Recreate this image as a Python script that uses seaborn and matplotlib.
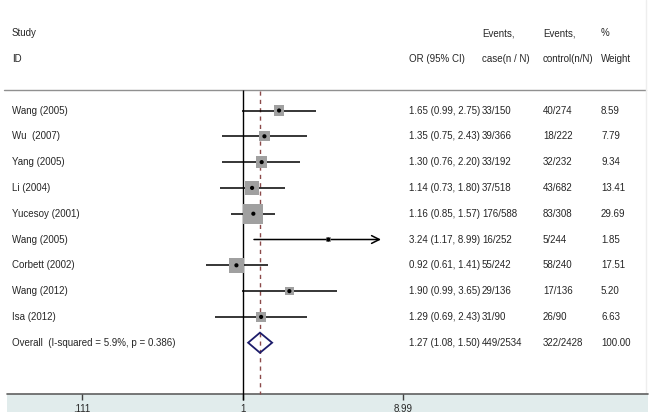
import matplotlib
matplotlib.use('Agg')
import matplotlib.pyplot as plt
import numpy as np
import pandas as pd
import seaborn as sns

# study data
studies = ["Wang (2005)", "Wu  (2007)", "Yang (2005)", "Li (2004)", "Yucesoy (2001)",
           "Wang (2005)", "Corbett (2002)", "Wang (2012)", "Isa (2012)"]
or_est = [1.65, 1.35, 1.30, 1.14, 1.16, 3.24, 0.92, 1.90, 1.29]
ci_lo = [0.99, 0.75, 0.76, 0.73, 0.85, 1.17, 0.61, 0.99, 0.69]
ci_hi = [2.75, 2.43, 2.20, 1.80, 1.57, 8.99, 1.41, 3.65, 2.43]
case_events = ["33/150", "39/366", "33/192", "37/518", "176/588", "16/252", "55/242", "29/136", "31/90"]
ctrl_events = ["40/274", "18/222", "32/232", "43/682", "83/308", "5/244", "58/240", "17/136", "26/90"]
weights = [8.59, 7.79, 9.34, 13.41, 29.69, 1.85, 17.51, 5.20, 6.63]

overall_label = "Overall  (I-squared = 5.9%, p = 0.386)"
overall_est, overall_lo, overall_hi = 1.27, 1.08, 1.50
overall_case, overall_ctrl, overall_weight = "449/2534", "322/2428", "100.00"

tick_vals = [0.111, 1, 8.99]
tick_labels = [".111", "1", "8.99"]
clip_hi = 6.67  # CI arms beyond this are drawn as arrows

sns.set_theme(style='white')
plt.rcParams['font.family'] = ['Liberation Sans', 'DejaVu Sans']

fig = plt.figure(figsize=(6.52, 4.19), dpi=100)
ax = fig.add_axes([0, 0, 1, 1])
ax.set_xscale('log')
ax.set_xlim(0.03607, 273.0)
ax.set_ylim(11.957, -4.283)
ax.axis('off')

df = pd.DataFrame(dict(study=studies, est=or_est, lo=ci_lo, hi=ci_hi, w=weights,
                       row=np.arange(len(studies))))
n = len(studies)
trans = ax.get_yaxis_transform()
fs = 7

# header + separators
ax.text(12 / 652, -3, "Study", fontsize=fs, va='center', transform=trans)
ax.text(12 / 652, -2, "ID", fontsize=fs, va='center', transform=trans)
ax.text(409 / 652, -2, "OR (95% CI)", fontsize=fs, va='center', transform=trans)
ax.text(482 / 652, -3, "Events,", fontsize=fs, va='center', transform=trans)
ax.text(482 / 652, -2, "case(n / N)", fontsize=fs, va='center', transform=trans)
ax.text(543 / 652, -3, "Events,", fontsize=fs, va='center', transform=trans)
ax.text(543 / 652, -2, "control(n/N)", fontsize=fs, va='center', transform=trans)
ax.text(601 / 652, -3, "%", fontsize=fs, va='center', transform=trans)
ax.text(601 / 652, -2, "Weight", fontsize=fs, va='center', transform=trans)
ax.plot([4 / 652, 646 / 652], [-0.81, -0.81], transform=trans, color='#909090', lw=1)
ax.plot([646 / 652, 646 / 652], [-4.283, 11.0], transform=trans, color='#eeeeee', lw=1)

# bottom axis band
ax.axhspan(11.0, 11.69, xmin=7 / 652, xmax=648 / 652, color='#e1ecec', lw=0)
ax.plot([7 / 652, 648 / 652], [11.0, 11.0], transform=trans, color='#606060', lw=1.2)
ax.vlines(tick_vals, 11.0, 11.23, color='#404040', lw=1)
for v, lab in zip(tick_vals, tick_labels):
    ax.text(v, 11.57, lab, fontsize=fs, ha='center', va='center')

# null line and pooled estimate line
ax.vlines(1, -0.81, 11.23, color='black', lw=1)
ax.vlines(overall_est, -0.75, 11.0, color='#8b4a4a', lw=1, linestyles=(0, (3, 3)))

# confidence intervals
for r in df.itertuples():
    if r.hi > clip_hi:
        ax.annotate("", xy=(clip_hi, r.row), xytext=(r.lo, r.row),
                    arrowprops=dict(arrowstyle='->', color='black', lw=1.1,
                                    mutation_scale=14, shrinkA=0, shrinkB=0))
    else:
        ax.hlines(r.row, r.lo, r.hi, color='black', lw=1.1)

# weight squares and point estimates
sns.scatterplot(data=df, x='est', y='row', size='w', sizes=(1.85 * 7, 29.69 * 7),
                size_norm=(1.85, 29.69), marker='s', color='#a0a0a0', edgecolor='none',
                legend=False, ax=ax, zorder=3)
sns.scatterplot(data=df, x='est', y='row', color='black', s=9, marker='o',
                edgecolor='none', legend=False, ax=ax, zorder=4)

# overall diamond
ax.fill([overall_lo, overall_est, overall_hi, overall_est, overall_lo],
        [n, n - 0.39, n, n + 0.39, n], fill=False, edgecolor='#1c1c6a', lw=1.3, zorder=4)

# study text columns
for r in df.itertuples():
    ax.text(12 / 652, r.row, r.study, fontsize=fs, va='center', transform=trans)
    ax.text(409 / 652, r.row, f"{r.est:.2f} ({r.lo:.2f}, {r.hi:.2f})", fontsize=fs,
            va='center', transform=trans)
    ax.text(482 / 652, r.row, case_events[r.row], fontsize=fs, va='center', transform=trans)
    ax.text(543 / 652, r.row, ctrl_events[r.row], fontsize=fs, va='center', transform=trans)
    ax.text(601 / 652, r.row, f"{r.w:.2f}", fontsize=fs, va='center', transform=trans)

ax.text(12 / 652, n, overall_label, fontsize=fs, va='center', transform=trans)
ax.text(409 / 652, n, f"{overall_est:.2f} ({overall_lo:.2f}, {overall_hi:.2f})",
        fontsize=fs, va='center', transform=trans)
ax.text(482 / 652, n, overall_case, fontsize=fs, va='center', transform=trans)
ax.text(543 / 652, n, overall_ctrl, fontsize=fs, va='center', transform=trans)
ax.text(601 / 652, n, overall_weight, fontsize=fs, va='center', transform=trans)

ax.set_xlabel('')
ax.set_ylabel('')
fig.savefig('out.png', dpi=100)
